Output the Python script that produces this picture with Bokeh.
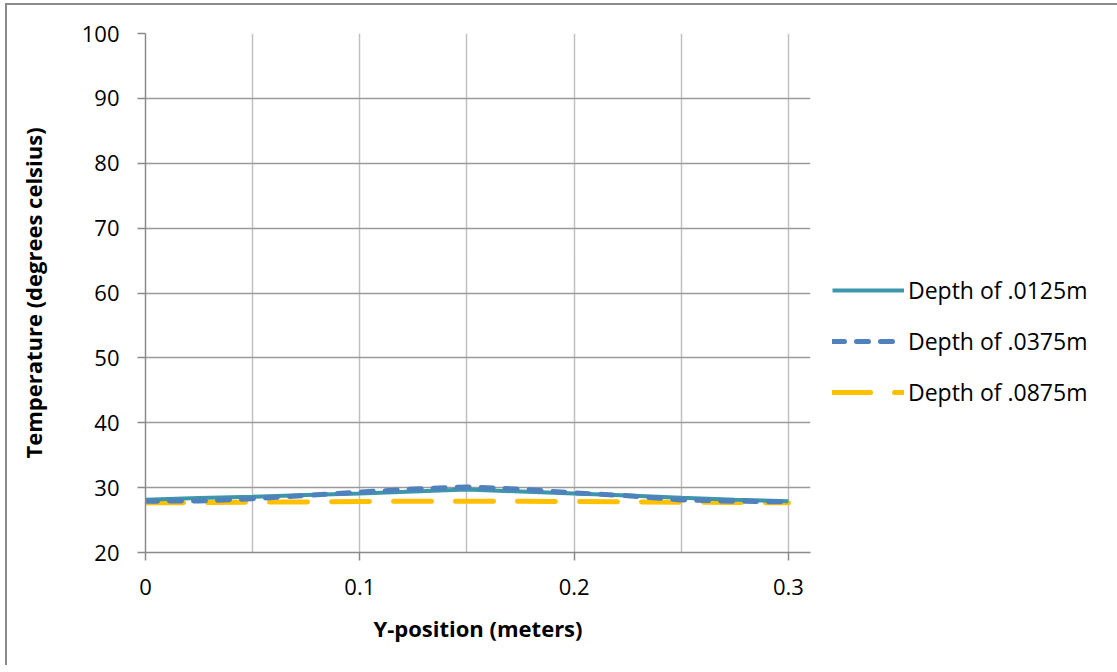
from bokeh.plotting import figure
from bokeh.models import Legend, LegendItem, FixedTicker, Range1d
from bokeh.embed import file_html
from bokeh.resources import INLINE

# ---- data ----
y_position = [0.0, 0.025, 0.05, 0.075, 0.1, 0.125, 0.15, 0.175, 0.2, 0.225, 0.25, 0.275, 0.3]
depth_0125 = [28.15, 28.4, 28.6, 28.85, 29.1, 29.4, 29.7, 29.4, 29.1, 28.8, 28.45, 28.15, 27.9]
depth_0375 = [27.9, 27.95, 28.3, 28.8, 29.3, 29.8, 30.1, 29.75, 29.2, 28.75, 28.1, 27.9, 27.8]
depth_0875 = [27.65, 27.7, 27.75, 27.8, 27.85, 27.9, 27.9, 27.9, 27.85, 27.8, 27.75, 27.7, 27.65]
series_names = ["Depth of .0125m", "Depth of .0375m", "Depth of .0875m"]
x_ticks = [0, 0.1, 0.2, 0.3]
x_tick_labels = ["0", "0.1", "0.2", "0.3"]
x_grid = [0.05, 0.1, 0.15, 0.2, 0.25, 0.3]
y_ticks = [20, 30, 40, 50, 60, 70, 80, 90, 100]

FONT = "Open Sans"

p = figure(width=1105, height=660, output_backend="svg", toolbar_location=None,
           x_range=Range1d(0, 0.3103), y_range=Range1d(20, 100),
           frame_width=665, frame_height=519,
           min_border_left=138, min_border_top=28, min_border_right=302, min_border_bottom=113)
p.styles = {"border-top": "2px solid #8a8a8a", "border-left": "2px solid #8a8a8a",
            "margin-left": "5px", "margin-top": "3px"}
p.background_fill_color = "white"
p.border_fill_color = "white"
p.outline_line_color = None

# grids
p.xgrid.ticker = FixedTicker(ticks=x_grid)
p.ygrid.ticker = FixedTicker(ticks=y_ticks)
p.xgrid.grid_line_color = "#c0c0c0"
p.xgrid.grid_line_width = 1.5
p.ygrid.grid_line_color = "#9a9a9a"
p.ygrid.grid_line_width = 1.5

# axes
for ax in (p.xaxis[0], p.yaxis[0]):
    ax.axis_line_color = "#8a8a8a"
    ax.axis_line_width = 1.5
    ax.major_tick_line_color = "#8a8a8a"
    ax.major_tick_line_width = 1.5
    ax.major_tick_out = 8
    ax.major_tick_in = 0
    ax.minor_tick_line_color = None
    ax.major_label_text_font = FONT
    ax.major_label_text_font_size = "22px"
    ax.major_label_text_color = "black"
    ax.axis_label_text_font = FONT
    ax.axis_label_text_font_style = "bold"
    ax.axis_label_text_font_size = "22px"
    ax.axis_label_text_color = "black"

p.xaxis.ticker = FixedTicker(ticks=x_ticks)
p.xaxis.major_label_overrides = {t: l for t, l in zip(x_ticks, x_tick_labels)}
p.yaxis.ticker = FixedTicker(ticks=y_ticks)
p.xaxis.axis_label = "Y-position (meters)"
p.yaxis.axis_label = "Temperature (degrees celsius)"
p.yaxis.major_label_standoff = 18
p.xaxis.major_label_standoff = 18
p.yaxis.axis_label_standoff = 31
p.xaxis.axis_label_standoff = 15

r3 = p.line(y_position, depth_0875, line_color="#FFC000", line_width=5,
            line_dash="38 24", line_cap="round")
r1 = p.line(y_position, depth_0125, line_color="#3D97AB", line_width=4)
r2 = p.line(y_position, depth_0375, line_color="#4F81BD", line_width=5,
            line_dash="12 12", line_cap="round")

legend = Legend(items=[LegendItem(label=series_names[0], renderers=[r1]),
                       LegendItem(label=series_names[1], renderers=[r2]),
                       LegendItem(label=series_names[2], renderers=[r3])],
                location=(22, 144))
legend.glyph_width = 72
legend.glyph_height = 24
legend.label_height = 24
legend.spacing = 19
legend.label_standoff = 4
legend.padding = 0
legend.margin = 0
legend.border_line_color = None
legend.background_fill_alpha = 0
legend.label_text_font = FONT
legend.label_text_font_size = "23px"
legend.label_text_color = "black"
p.add_layout(legend, "right")

open("out.html", "w").write(file_html(p, INLINE))
